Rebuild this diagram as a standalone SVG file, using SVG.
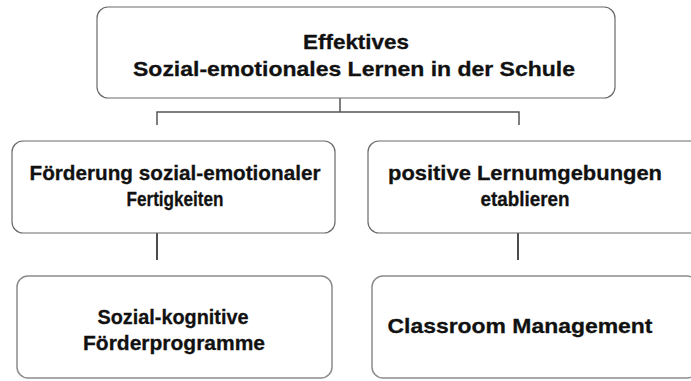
<svg xmlns="http://www.w3.org/2000/svg" width="691" height="381" viewBox="0 0 691 381">
  <style>
    .box { fill: #ffffff; stroke: #6a6a6a; stroke-width: 1.2; }
    .box-low { fill: #ffffff; stroke: #8c8c8c; stroke-width: 1.5; }
    .label { font-family: "Liberation Sans", Arial, sans-serif; font-weight: bold; font-size: 21px; fill: #111111; stroke: #111111; stroke-width: 0.3; text-anchor: middle; }
    .link { fill: none; stroke: #555555; stroke-width: 1.5; }
    .drop { fill: none; stroke: #111111; stroke-width: 1.5; }
    .dots { fill: none; stroke: #c8c8c8; stroke-width: 1; stroke-dasharray: 1 1; }
  </style>
  <rect width="691" height="381" fill="#ffffff"/>

  <g id="connectors">
    <line class="dots" x1="340" y1="84" x2="340" y2="98"/>
    <path class="link" d="M340 98 V112 M157 125 V112 H519 V125"/>
    <line class="dots" x1="157" y1="218" x2="157" y2="233"/>
    <line class="drop" x1="157" y1="233" x2="157" y2="260"/>
    <line class="dots" x1="518" y1="218" x2="518" y2="233"/>
    <line class="drop" x1="518" y1="233" x2="518" y2="260"/>
  </g>

  <g id="root">
    <rect class="box" x="97" y="7" width="518" height="91" rx="11"/>
    <text class="label" x="356" y="49" textLength="106" lengthAdjust="spacingAndGlyphs">Effektives</text>
    <text class="label" x="354" y="76" textLength="442" lengthAdjust="spacingAndGlyphs">Sozial-emotionales Lernen in der Schule</text>
  </g>

  <g id="foerderung">
    <rect class="box" x="12" y="141" width="323" height="92" rx="11"/>
    <text class="label" x="175" y="180" textLength="291" lengthAdjust="spacingAndGlyphs">Förderung sozial-emotionaler</text>
    <text class="label" x="175" y="206" textLength="97" lengthAdjust="spacingAndGlyphs">Fertigkeiten</text>
  </g>

  <g id="lernumgebungen">
    <rect class="box" x="368" y="141" width="335" height="92" rx="11"/>
    <text class="label" x="525" y="180" textLength="274" lengthAdjust="spacingAndGlyphs">positive Lernumgebungen</text>
    <text class="label" x="525" y="206" textLength="89" lengthAdjust="spacingAndGlyphs">etablieren</text>
  </g>

  <g id="programme">
    <rect class="box-low" x="17" y="276" width="315" height="102" rx="11"/>
    <text class="label" x="173" y="324" textLength="151" lengthAdjust="spacingAndGlyphs">Sozial-kognitive</text>
    <text class="label" x="174" y="350" textLength="182" lengthAdjust="spacingAndGlyphs">Förderprogramme</text>
  </g>

  <g id="classroom">
    <rect class="box-low" x="372" y="276" width="326" height="102" rx="11"/>
    <text class="label" x="520" y="333" textLength="265" lengthAdjust="spacingAndGlyphs">Classroom Management</text>
  </g>
</svg>
